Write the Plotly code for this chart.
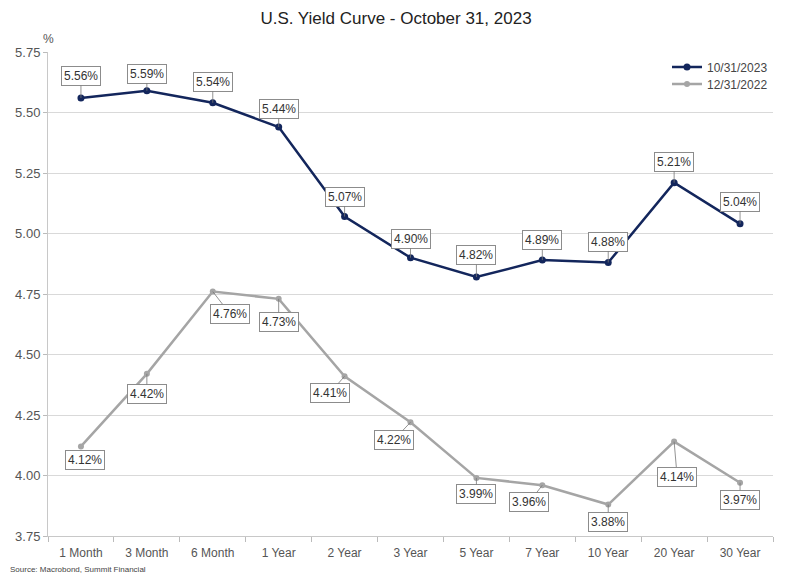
import plotly.graph_objects as go

# Treasury yield curve data (%)
maturities = ["1 Month", "3 Month", "6 Month", "1 Year", "2 Year", "3 Year",
              "5 Year", "7 Year", "10 Year", "20 Year", "30 Year"]
yields_2023 = [5.56, 5.59, 5.54, 5.44, 5.07, 4.90, 4.82, 4.89, 4.88, 5.21, 5.04]
yields_2022 = [4.12, 4.42, 4.76, 4.73, 4.41, 4.22, 3.99, 3.96, 3.88, 4.14, 3.97]
series_names = ["10/31/2023", "12/31/2022"]

# Label offsets (pixels) from each point to its value box
offsets_2023 = [(0, -22), (0, -17), (0, -21), (0, -18), (0, -20), (0, -19),
                (0, -22), (0, -20), (0, -21), (0, -21), (0, -22)]
offsets_2022 = [(4, 14), (0, 20), (17, 22), (0, 23), (-15, 17), (-17, 18),
                (0, 16), (-13, 17), (0, 17), (3, 35), (0, 17)]

NAVY = "#13265c"
GRAY = "#a5a5a5"
FONT = "Liberation Sans, Arial, sans-serif"

fig = go.Figure()
for name, vals, color, leg in [(series_names[0], yields_2023, NAVY, "legend"),
                               (series_names[1], yields_2022, GRAY, "legend2")]:
    fig.add_trace(go.Scatter(
        x=maturities, y=vals, name=name, mode="lines+markers", legend=leg,
        line=dict(color=color, width=2.5),
        marker=dict(color=color, size=7 if color == NAVY else 6),
    ))

annotations = []
for vals, offs in [(yields_2023, offsets_2023), (yields_2022, offsets_2022)]:
    for m, v, (dx, dy) in zip(maturities, vals, offs):
        annotations.append(dict(
            x=m, y=v, xref="x", yref="y", text=f"{v:.2f}%",
            showarrow=True, arrowhead=0, arrowwidth=0.8, arrowcolor="#777777",
            ax=dx, ay=dy, standoff=0,
            bgcolor="white", bordercolor="#8c8c8c", borderwidth=1, borderpad=2,
            font=dict(family=FONT, size=12, color="#333333"),
        ))

# unit label above the y-axis
annotations.append(dict(
    x=0, y=1.0, xref="paper", yref="paper", xanchor="center", yanchor="bottom",
    yshift=4, text="%", showarrow=False,
    font=dict(family=FONT, size=12, color="#555555"),
))
# source note in the bottom-left corner
annotations.append(dict(
    x=-0.055, y=-0.083, xref="paper", yref="paper", xanchor="left", yanchor="bottom",
    text="Source: Macrobond, Summit Financial", showarrow=False,
    font=dict(family=FONT, size=8, color="#444444"),
))

legend_style = dict(xanchor="right", bgcolor="rgba(0,0,0,0)",
                    font=dict(family=FONT, size=12, color="#444444"),
                    itemwidth=30, borderwidth=0)

fig.update_layout(
    width=792, height=576,
    margin=dict(l=48, r=19, t=52, b=40),
    paper_bgcolor="white", plot_bgcolor="white",
    title=dict(text="U.S. Yield Curve - October 31, 2023", x=0.5, xanchor="center",
               y=1 - 18 / 576, yanchor="middle",
               font=dict(family=FONT, size=17, color="#222222")),
    font=dict(family=FONT, size=12, color="#555555"),
    showlegend=True,
    legend=dict(x=1.0, y=0.999, yanchor="top", **legend_style),
    legend2=dict(x=1.0, y=0.964, yanchor="top", **legend_style),
    xaxis=dict(
        type="category", range=[-0.5, 10.5], showgrid=False,
        showline=True, linecolor="#c8c8c8", linewidth=1,
        ticks="outside", tickson="boundaries", ticklen=5, tickcolor="#bbbbbb",
        ticklabelstandoff=6,
        tickfont=dict(family=FONT, size=12, color="#555555"),
    ),
    yaxis=dict(
        range=[3.75, 5.75], tickvals=[3.75, 4.0, 4.25, 4.5, 4.75, 5.0, 5.25, 5.5, 5.75],
        tickformat=".2f", showgrid=True, gridcolor="#d9d9d9", gridwidth=1,
        showline=True, linecolor="#c8c8c8", linewidth=1,
        ticks="outside", ticklen=4, tickcolor="#bbbbbb", zeroline=False,
        tickfont=dict(family=FONT, size=13, color="#555555"),
    ),
    annotations=annotations,
)

fig.write_html("out.html")
